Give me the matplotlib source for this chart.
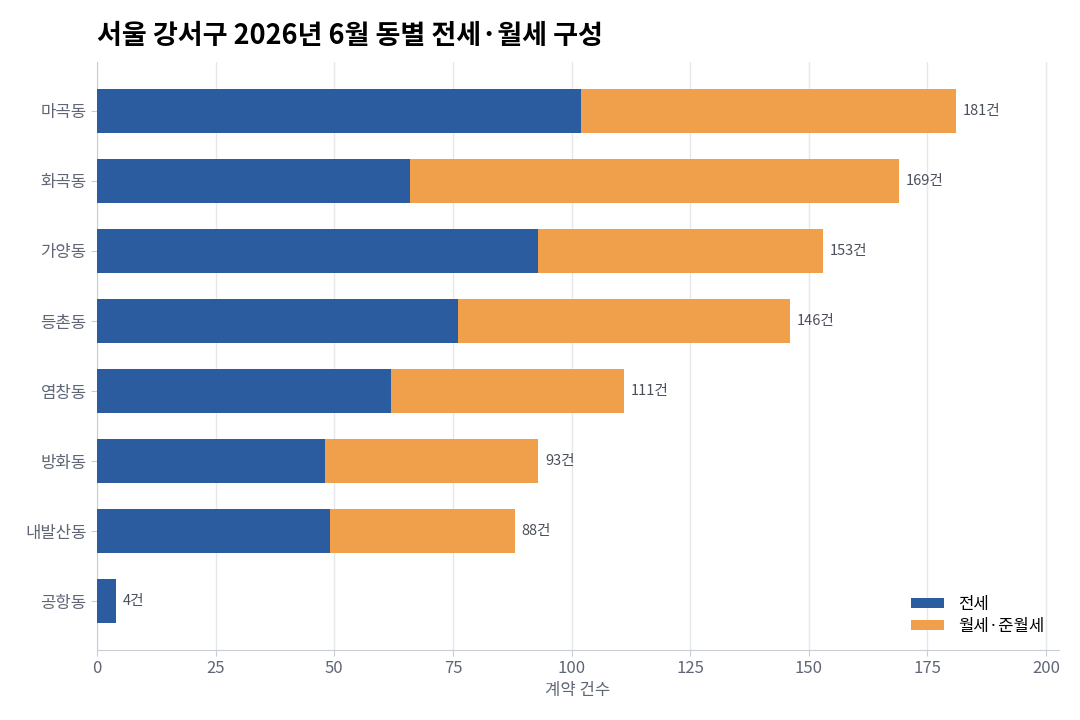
import matplotlib
matplotlib.use("Agg")
import matplotlib.pyplot as plt

plt.rcParams['font.family'] = ['Noto Sans CJK KR', 'DejaVu Sans']

# 동별 계약 건수 (위에서 아래 순서)
dongs = ['마곡동', '화곡동', '가양동', '등촌동', '염창동', '방화동', '내발산동', '공항동']
jeonse = [102, 66, 93, 76, 62, 48, 49, 4]
wolse = [79, 103, 60, 70, 49, 45, 39, 0]
totals = [j + w for j, w in zip(jeonse, wolse)]

blue = '#2c5ca0'
orange = '#f0a04b'
gray_text = '#5f6675'

fig = plt.figure(figsize=(10.8, 7.2), dpi=100)
ax = fig.add_axes([0.0898, 0.0972, 0.8908, 0.8167])

y = list(range(len(dongs)))
ax.barh(y, jeonse, height=0.62, color=blue, label='전세', zorder=3)
ax.barh(y, wolse, left=jeonse, height=0.62, color=orange, label='월세·준월세', zorder=3)

for yi, t in zip(y, totals):
    ax.text(t + 1.5, yi, f'{t}건', va='center', ha='left', fontsize=10.5, color='#4a4f5c')

ax.set_yticks(y)
ax.set_yticklabels(dongs)
ax.set_ylim(len(dongs) - 0.3, -0.7)
ax.set_xlim(0, max(totals) * 1.12)
ax.set_xticks([0, 25, 50, 75, 100, 125, 150, 175, 200])

ax.grid(axis='x', color='#e6e8ec', linewidth=1, zorder=0)
ax.set_axisbelow(True)
for s in ['top', 'right']:
    ax.spines[s].set_visible(False)
for s in ['left', 'bottom']:
    ax.spines[s].set_color('#c8ccd4')
ax.tick_params(axis='both', colors='#c8ccd4', labelcolor=gray_text, labelsize=12, length=4)

ax.set_xlabel('계약 건수', fontsize=12, color=gray_text, labelpad=3)
ax.set_title('서울 강서구 2026년 6월 동별 전세·월세 구성', loc='left', fontsize=19.5,
             fontweight='bold', pad=13, x=0.0)

ax.legend(loc='lower right', frameon=False, fontsize=12, handlelength=2.0,
          handleheight=0.6, borderaxespad=0.5, labelspacing=0.3)

fig.savefig('out.png', dpi=100)
